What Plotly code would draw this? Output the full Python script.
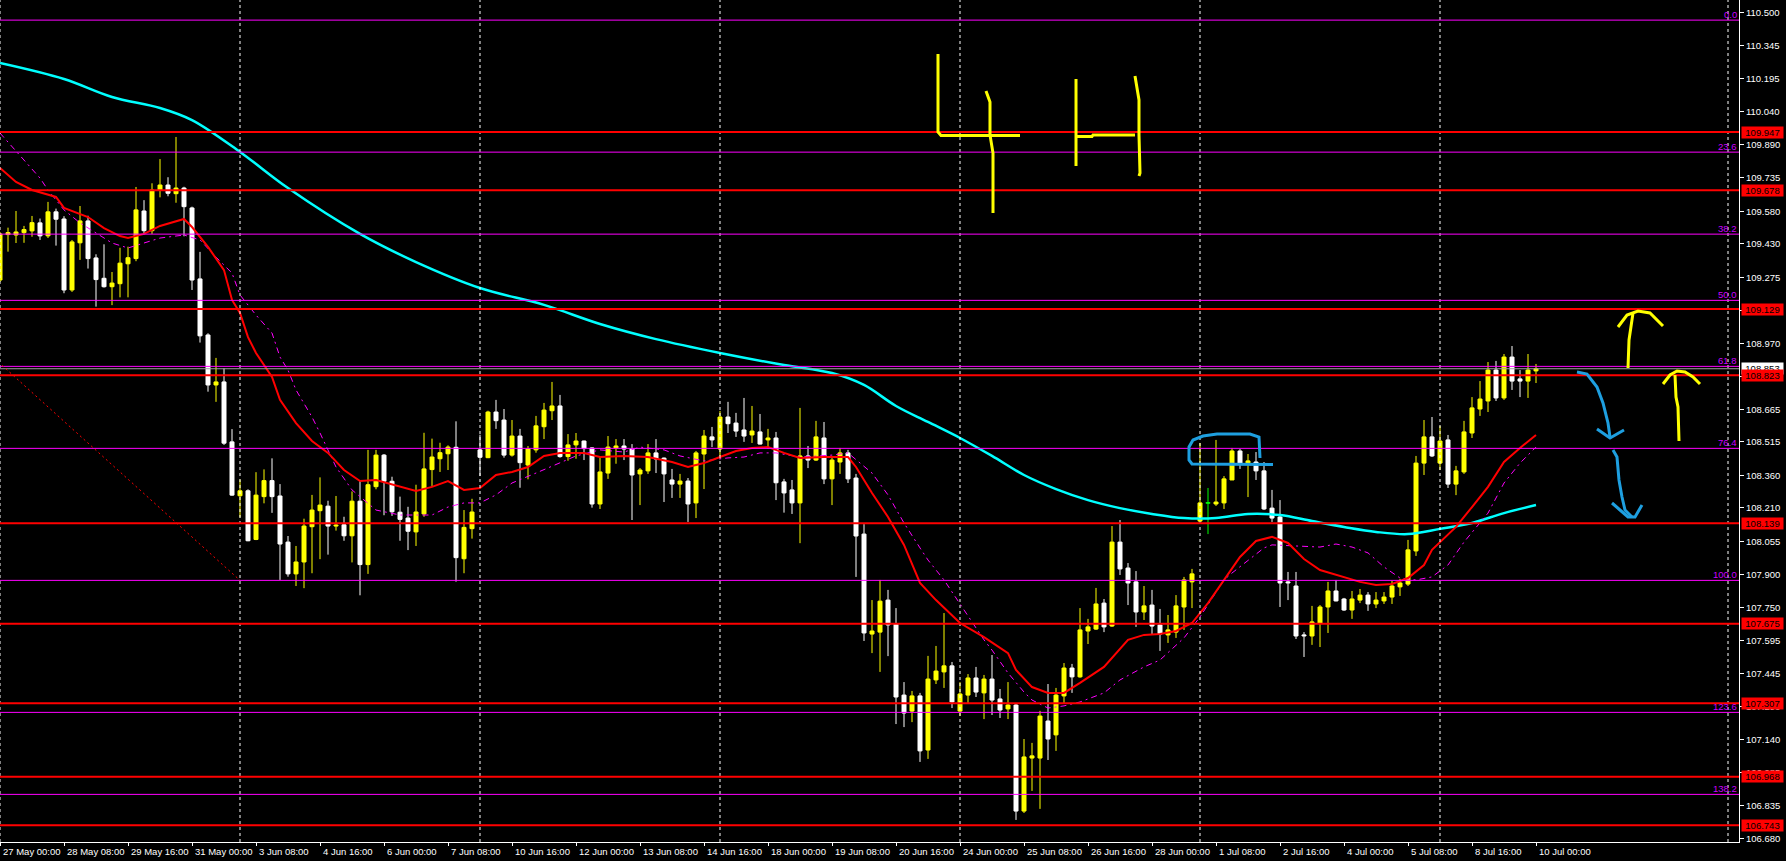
import plotly.graph_objects as go

# ---------------- DATA ----------------
opens = [109.263,109.473,109.471,109.482,109.490,109.527,109.467,109.578,109.545,109.217,
109.435,109.536,109.365,109.271,109.232,109.246,109.338,109.362,109.582,109.491,
109.679,109.702,109.662,109.688,109.596,109.268,109.009,108.778,108.792,108.515,
108.266,108.289,108.064,108.262,108.336,108.265,108.052,107.905,107.960,108.123,
108.197,108.218,108.126,108.132,108.081,108.241,107.948,108.308,108.454,108.333,
108.190,108.163,108.099,108.182,108.387,108.437,108.460,108.490,107.975,108.114,
108.478,108.442,108.653,108.616,108.454,108.542,108.408,108.478,108.585,108.659,
108.681,108.447,108.501,108.519,108.487,108.228,108.371,108.487,108.496,108.482,
108.367,108.381,108.464,108.440,108.339,108.320,108.334,108.233,108.459,108.538,
108.482,108.630,108.602,108.570,108.547,108.561,108.524,108.533,108.330,108.293,
108.233,108.450,108.431,108.533,108.344,108.422,108.464,108.348,108.089,107.627,
107.636,107.784,107.673,107.345,107.271,107.341,107.091,107.415,107.452,107.480,
107.271,107.345,107.424,107.355,107.419,107.327,107.281,107.299,106.809,107.054,
107.054,107.225,107.161,107.341,107.470,107.429,107.641,107.650,107.770,107.664,
108.052,107.932,107.868,107.729,107.761,107.669,107.623,107.636,107.752,107.868,
108.149,108.233,108.228,108.233,108.339,108.473,108.413,108.422,108.381,108.209,
108.168,107.868,107.849,107.623,107.618,107.678,107.752,107.826,107.789,107.738,
107.784,107.807,107.766,107.780,107.798,107.845,107.858,108.011,108.417,108.538,
108.417,108.524,108.320,108.376,108.556,108.667,108.704,108.847,108.718,108.907,
108.806,108.796,108.843]
highs = [109.485,109.505,109.582,109.513,109.559,109.547,109.624,109.593,109.558,109.448,
109.605,109.560,109.382,109.428,109.300,109.412,109.417,109.693,109.632,109.710,
109.822,109.738,109.924,109.694,109.602,109.393,109.017,108.903,108.855,108.574,
108.341,108.296,108.375,108.388,108.439,108.320,108.080,108.034,108.160,108.270,
108.351,108.243,108.265,108.169,108.286,108.336,108.478,108.478,108.459,108.354,
108.262,108.215,108.317,108.557,108.530,108.511,108.499,108.610,108.200,108.252,
108.548,108.659,108.709,108.667,108.616,108.575,108.496,108.635,108.695,108.792,
108.732,108.551,108.556,108.521,108.490,108.441,108.542,108.528,108.528,108.505,
108.394,108.505,108.528,108.443,108.390,108.367,108.348,108.473,108.570,108.584,
108.658,108.700,108.649,108.718,108.681,108.644,108.575,108.561,108.344,108.339,
108.672,108.496,108.612,108.607,108.450,108.487,108.478,108.367,108.135,107.784,
107.877,107.831,107.747,107.405,107.364,107.355,107.526,107.572,107.724,107.498,
107.405,107.442,107.475,107.438,107.530,107.373,107.405,107.308,107.142,107.124,
107.272,107.396,107.378,107.493,107.489,107.747,107.697,107.840,107.789,108.126,
108.154,107.955,107.918,107.849,107.831,107.743,107.715,107.807,107.891,107.928,
108.510,108.302,108.524,108.357,108.487,108.482,108.459,108.468,108.422,108.293,
108.246,107.914,107.914,107.636,107.757,107.761,107.868,107.877,107.794,107.826,
107.835,107.821,107.821,107.821,107.872,107.882,108.062,108.450,108.616,108.630,
108.589,108.547,108.404,108.612,108.722,108.796,108.884,108.889,108.921,108.958,
108.847,108.921,108.875]
lows = [109.254,109.394,109.434,109.435,109.463,109.448,109.457,109.422,109.202,109.208,
109.356,109.316,109.140,109.228,109.147,109.183,109.183,109.350,109.475,109.476,
109.645,109.650,109.620,109.465,109.217,108.974,108.747,108.700,108.501,108.266,
108.166,108.056,108.061,108.231,108.187,107.877,107.892,107.849,107.839,107.908,
107.973,107.994,108.105,108.058,107.958,107.806,107.905,108.296,108.176,108.173,
108.058,108.015,108.034,108.169,108.308,108.376,108.385,107.869,107.908,108.068,
108.357,108.440,108.575,108.442,108.447,108.303,108.342,108.465,108.528,108.616,
108.442,108.428,108.437,108.431,108.211,108.205,108.344,108.414,108.431,108.154,
108.223,108.367,108.371,108.237,108.256,108.256,108.145,108.163,108.297,108.491,
108.436,108.556,108.538,108.515,108.510,108.503,108.482,108.246,108.188,108.182,
108.047,108.394,108.427,108.320,108.223,108.367,108.325,107.891,107.595,107.539,
107.452,107.525,107.211,107.197,107.220,107.036,107.050,107.396,107.378,107.285,
107.248,107.304,107.336,107.234,107.253,107.239,107.234,106.768,106.800,106.902,
106.819,107.045,107.087,107.308,107.355,107.425,107.581,107.646,107.636,107.660,
107.900,107.761,107.660,107.692,107.623,107.549,107.586,107.609,107.646,107.747,
108.149,108.089,108.219,108.205,108.339,108.390,108.260,108.339,108.200,108.145,
107.752,107.784,107.604,107.521,107.577,107.567,107.632,107.778,107.734,107.697,
107.770,107.734,107.747,107.766,107.766,107.803,107.849,107.988,108.362,108.445,
108.385,108.302,108.269,108.367,108.533,108.635,108.653,108.704,108.709,108.755,
108.722,108.718,108.787]
closes = [109.476,109.482,109.485,109.496,109.528,109.467,109.578,109.544,109.217,109.439,
109.536,109.362,109.265,109.232,109.249,109.341,109.366,109.587,109.491,109.679,
109.702,109.664,109.688,109.602,109.263,109.005,108.778,108.792,108.509,108.269,
108.289,108.058,108.269,108.336,108.262,108.043,107.905,107.960,108.126,108.200,
108.223,108.126,108.131,108.081,108.241,107.948,108.317,108.454,108.333,108.192,
108.157,108.102,108.191,108.390,108.445,108.465,108.491,107.980,108.120,108.191,
108.444,108.653,108.613,108.454,108.542,108.419,108.482,108.589,108.662,108.681,
108.447,108.501,108.519,108.484,108.228,108.376,108.491,108.496,108.482,108.362,
108.385,108.464,108.436,108.367,108.320,108.334,108.228,108.464,108.542,108.524,
108.630,108.599,108.565,108.542,108.565,108.505,108.533,108.326,108.279,108.233,
108.450,108.431,108.538,108.344,108.431,108.464,108.344,108.080,107.632,107.641,
107.779,107.669,107.336,107.262,107.341,107.087,107.419,107.456,107.480,107.313,
107.350,107.424,107.359,107.419,107.322,107.276,107.299,106.809,107.059,107.064,
107.248,107.142,107.345,107.470,107.429,107.646,107.660,107.766,107.660,108.052,
107.928,107.863,107.729,107.757,107.664,107.627,107.646,107.757,107.877,107.905,
108.233,108.233,108.237,108.344,108.473,108.417,108.427,108.381,108.205,108.163,
107.863,107.863,107.618,107.618,107.683,107.752,107.826,107.780,107.738,107.789,
107.807,107.766,107.784,107.798,107.849,107.863,108.016,108.417,108.538,108.450,
108.519,108.320,108.381,108.561,108.672,108.713,108.847,108.718,108.907,108.796,
108.796,108.847,108.853]

# moving averages, read at sample bars
ma_cyan_idx = [0,8,14,20,24,30,36,45,52,60,68,75,82,90,98,104,108,112,116,120,124,128,
               132,136,140,144,148,152,156,160,164,168,172,176,180,184,188,192]
ma_cyan = [110.266,110.192,110.109,110.058,110.002,109.855,109.688,109.476,109.346,109.226,
           109.148,109.060,108.990,108.926,108.870,108.833,108.778,108.681,108.607,108.533,
           108.450,108.362,108.297,108.246,108.209,108.182,108.163,108.163,108.182,108.177,
           108.149,108.122,108.099,108.089,108.113,108.140,108.186,108.223]
ma_red_idx = [0,2,4,7,8,11,13,15,16,18,20,23,24,26,28,29,30,31,32,34,35,37,39,41,43,45,47,
              50,52,54,56,58,60,62,64,66,68,70,73,75,78,81,84,86,88,90,92,94,96,98,100,103,
              106,107,109,111,113,115,117,120,123,126,127,129,131,133,135,138,141,143,145,
              147,149,151,153,155,157,159,161,163,165,168,170,172,174,176,178,179,182,184,
              186,188,190,192]
ma_red = [109.781,109.716,109.679,109.647,109.596,109.554,109.503,109.466,109.457,109.476,
          109.513,109.545,109.508,109.416,109.309,109.171,109.111,108.999,108.926,108.815,
          108.709,108.602,108.519,108.464,108.385,108.334,108.339,108.307,108.288,108.307,
          108.334,108.293,108.302,108.362,108.376,108.399,108.450,108.464,108.464,108.445,
          108.450,108.445,108.422,108.399,108.417,108.445,108.473,108.487,108.491,108.464,
          108.441,108.445,108.445,108.399,108.279,108.168,108.039,107.863,107.784,107.678,
          107.613,107.539,107.461,107.382,107.355,107.355,107.401,107.475,107.600,107.623,
          107.627,107.641,107.678,107.770,107.877,107.983,108.057,108.076,108.048,107.974,
          107.923,107.891,107.868,107.854,107.858,107.886,107.946,108.016,108.122,108.214,
          108.307,108.422,108.487,108.547]
ma_mag_idx = [0,3,5,6,8,10,13,14,16,18,20,23,25,27,29,30,32,34,35,36,37,39,40,42,44,47,50,
              54,56,58,60,62,64,67,70,72,75,78,80,83,85,88,91,93,95,97,100,104,106,109,111,
              113,115,116,118,119,121,123,124,126,128,129,131,133,135,138,140,143,145,147,
              148,150,152,153,154,156,158,159,162,165,167,169,171,173,175,177,179,181,183,
              186,188,190,192]
ma_mag = [109.942,109.818,109.734,109.679,109.587,109.527,109.457,109.434,109.411,109.434,
          109.457,109.471,109.448,109.369,109.295,109.194,109.101,109.018,108.907,108.847,
          108.755,108.630,108.556,108.399,108.293,108.200,108.177,108.177,108.214,108.233,
          108.233,108.270,108.325,108.371,108.417,108.450,108.478,108.468,108.491,108.478,
          108.450,108.427,108.441,108.445,108.464,108.464,108.445,108.454,108.464,108.371,
          108.270,108.140,108.025,107.969,107.877,107.821,107.706,107.600,107.553,107.447,
          107.359,107.322,107.285,107.295,107.313,107.355,107.415,107.475,107.507,107.576,
          107.609,107.706,107.821,107.877,107.909,107.969,108.025,108.039,108.034,108.029,
          108.043,108.029,108.002,107.937,107.886,107.877,107.891,107.946,108.052,108.186,
          108.325,108.417,108.491]

# horizontal levels
red_levels = [109.947, 109.678, 109.129, 108.823, 108.139, 107.675, 107.307, 106.968, 106.743]
fib_names = ["0.0", "23.6", "38.2", "50.0", "61.8", "76.4", "100.0", "123.6", "138.2"]
fib_prices = [110.464, 109.854, 109.475, 109.169, 108.864, 108.485, 107.875, 107.265, 106.886]
fib_anchor_bars = [-47.5, 30]
fib_anchor_prices = [110.464, 107.875]
current_price = 108.853

# axes
y_ticks = [110.500,110.345,110.195,110.040,109.890,109.735,109.580,109.430,109.275,109.120,
           108.970,108.815,108.665,108.515,108.360,108.210,108.055,107.900,107.750,107.595,
           107.445,107.290,107.140,106.985,106.835,106.680]
x_tick_bars = list(range(0, 193, 8))
x_tick_labels = ["27 May 00:00","28 May 08:00","29 May 16:00","31 May 00:00","3 Jun 08:00",
                 "4 Jun 16:00","6 Jun 00:00","7 Jun 08:00","10 Jun 16:00","12 Jun 00:00",
                 "13 Jun 08:00","14 Jun 16:00","18 Jun 00:00","19 Jun 08:00","20 Jun 16:00",
                 "24 Jun 00:00","25 Jun 08:00","26 Jun 16:00","28 Jun 00:00","1 Jul 08:00",
                 "2 Jul 16:00","4 Jul 00:00","5 Jul 08:00","8 Jul 16:00","10 Jul 00:00"]
separator_bars = [0, 30, 60, 90, 120, 150, 180, 216]

# ---------------- LAYOUT CONSTANTS ----------------
W, H = 1786, 861
ML, MR, MT, MB = 0, 47, 0, 19
PW, PH = W - ML - MR, H - MT - MB
X_RANGE = [0, 217.375]
Y_RANGE = [106.666, 110.557]
FONT = "Liberation Sans, Arial, sans-serif"
YELLOW, WHITE, GREEN = "#FFFF00", "#FFFFFF", "#00FF00"

bars = list(range(len(opens)))

fig = go.Figure()

# wicks
groups = {YELLOW: ([], []), WHITE: ([], []), GREEN: ([], [])}
colors = []
for i, o, h, l, c in zip(bars, opens, highs, lows, closes):
    col = YELLOW if c > o else (WHITE if c < o else GREEN)
    colors.append(col)
    gx, gy = groups[col]
    gx += [i, i, None]
    gy += [l, h, None]
for col, (gx, gy) in groups.items():
    fig.add_trace(go.Scatter(x=gx, y=gy, mode="lines", line=dict(color=col, width=1),
                             hoverinfo="skip", showlegend=False))

# bodies
fig.add_trace(go.Bar(x=bars, base=[min(o, c) for o, c in zip(opens, closes)],
                     y=[abs(c - o) for o, c in zip(opens, closes)],
                     width=0.5, marker=dict(color=colors, line=dict(color=colors, width=1)),
                     hoverinfo="skip", showlegend=False))
# doji bodies
dx, dy = [], []
for i, o, c in zip(bars, opens, closes):
    if o == c:
        dx += [i - 0.3, i + 0.3, None]
        dy += [c, c, None]
fig.add_trace(go.Scatter(x=dx, y=dy, mode="lines", line=dict(color=GREEN, width=1),
                         hoverinfo="skip", showlegend=False))

# moving averages
fig.add_trace(go.Scatter(x=ma_cyan_idx, y=ma_cyan, mode="lines", line_shape="spline",
                         line=dict(color="#00FFFF", width=2.5), hoverinfo="skip", showlegend=False))
fig.add_trace(go.Scatter(x=ma_mag_idx, y=ma_mag, mode="lines",
                         line=dict(color="#FF00FF", width=1, dash="6px,4px,2px,4px"),
                         hoverinfo="skip", showlegend=False))
fig.add_trace(go.Scatter(x=ma_red_idx, y=ma_red, mode="lines",
                         line=dict(color="#FF0000", width=2), hoverinfo="skip", showlegend=False))

shapes = []
for b in separator_bars:
    shapes.append(dict(type="line", xref="x", yref="paper", x0=b, x1=b, y0=0, y1=1,
                       line=dict(color="#FFFFFF", width=1, dash="3px,3px"), layer="above"))
for p in fib_prices:
    shapes.append(dict(type="line", xref="paper", yref="y", x0=0, x1=1, y0=p, y1=p,
                       line=dict(color="#FF00FF", width=1), layer="above"))
shapes.append(dict(type="line", xref="paper", yref="y", x0=0, x1=1, y0=current_price,
                   y1=current_price, line=dict(color="#A0A0A0", width=1), layer="above"))
for p in red_levels:
    shapes.append(dict(type="line", xref="paper", yref="y", x0=0, x1=1, y0=p, y1=p,
                       line=dict(color="#FF0000", width=2), layer="above"))
shapes.append(dict(type="line", xref="x", yref="y", x0=fib_anchor_bars[0], y0=fib_anchor_prices[0],
                   x1=fib_anchor_bars[1], y1=fib_anchor_prices[1],
                   line=dict(color="#FF0000", width=1, dash="2px,3px"), layer="above"))

# hand drawings (pixel positions on the screenshot)
strokes = [
    ("#FFFF00", [(938, 54), (938, 132), (941, 135.5), (1020, 135.5)]),
    ("#FFFF00", [(986, 91), (990, 102), (990, 135), (993, 153), (993, 213)]),
    ("#FFFF00", [(1076, 79), (1076, 166)]),
    ("#FFFF00", [(1076, 136.5), (1092, 136.5), (1093, 135), (1135, 135)]),
    ("#FFFF00", [(1135, 76), (1139, 100), (1139, 135), (1140, 173), (1139, 176)]),
    ("#1E9FE0", [(1260, 458), (1259, 437), (1250, 434), (1217, 434), (1203, 436), (1193, 440),
                 (1189, 447), (1189, 460), (1192, 464), (1273, 464.5)]),
    ("#1E9FE0", [(1577, 372), (1587, 374), (1597, 387), (1603, 403), (1608, 423), (1610, 437)]),
    ("#1E9FE0", [(1597, 429), (1610, 438), (1624, 430)]),
    ("#1E9FE0", [(1613, 450), (1617, 457), (1619, 480), (1622, 497), (1625, 510), (1632, 517)]),
    ("#1E9FE0", [(1612, 503), (1620, 510), (1628, 517), (1635, 517), (1642, 505)]),
    ("#FFFF00", [(1628, 368), (1629, 340), (1633, 313)]),
    ("#FFFF00", [(1618, 327), (1627, 315), (1638, 311), (1650, 313), (1663, 326)]),
    ("#FFFF00", [(1679, 441), (1678, 407), (1676, 397), (1675, 375)]),
    ("#FFFF00", [(1663, 384), (1670, 375), (1677, 371), (1685, 372), (1693, 377), (1700, 384)]),
]
for col, pts in strokes:
    path = "M " + " L ".join(f"{(px - ML) / PW:.5f},{1 - (py - MT) / PH:.5f}" for px, py in pts)
    shapes.append(dict(type="path", xref="paper", yref="paper", path=path,
                       line=dict(color=col, width=3), layer="above"))

annotations = []
# x-axis labels, left-aligned at their tick like the terminal does
for b, lab in zip(x_tick_bars, x_tick_labels):
    annotations.append(dict(xref="x", yref="paper", x=b, y=0, xanchor="left", yanchor="top",
                            xshift=1, yshift=-2, text=lab, showarrow=False,
                            font=dict(family=FONT, size=9.5, color="#FFFFFF")))
for name, p in zip(fib_names, fib_prices):
    annotations.append(dict(xref="paper", yref="y", x=1, y=p, xanchor="right", yanchor="bottom",
                            text=name, showarrow=False, yshift=-2,
                            font=dict(family=FONT, size=9.5, color="#CC00FF")))
annotations.append(dict(xref="paper", yref="y", x=1, y=current_price, xanchor="left", yanchor="middle",
                        xshift=2, text=f"{current_price:.3f}", showarrow=False, bgcolor="#FFFFFF",
                        width=40, height=10, borderpad=0.5,
                        font=dict(family=FONT, size=9.5, color="#000000")))
for p in red_levels:
    annotations.append(dict(xref="paper", yref="y", x=1, y=p, xanchor="left", yanchor="middle",
                            xshift=2, text=f"{p:.3f}", showarrow=False, bgcolor="#FF0000",
                            width=40, height=10, borderpad=0.5,
                            font=dict(family=FONT, size=9.5, color="#000000")))

fig.update_layout(
    width=W, height=H, autosize=False,
    margin=dict(l=ML, r=MR, t=MT, b=MB, pad=0),
    paper_bgcolor="#000000", plot_bgcolor="#000000",
    showlegend=False, shapes=shapes, annotations=annotations,
    font=dict(family=FONT, size=9.5, color="#FFFFFF"),
    xaxis=dict(range=X_RANGE, showgrid=False, zeroline=False, tickmode="array",
               tickvals=x_tick_bars, showticklabels=False, ticks="outside", ticklen=3,
               tickcolor="#FFFFFF", showline=True,
               linecolor="#FFFFFF", linewidth=1, automargin=False),
    yaxis=dict(range=Y_RANGE, side="right", showgrid=False, zeroline=False, tickmode="array",
               tickvals=y_ticks, ticktext=[f"{v:.3f}" for v in y_ticks], ticks="outside",
               ticklen=4, tickcolor="#FFFFFF", showline=True, linecolor="#FFFFFF", linewidth=1,
               automargin=False, tickfont=dict(family=FONT, size=9.5, color="#FFFFFF")),
)

fig.write_html("out.html", config={"displayModeBar": False},
               post_script="document.body.style.margin='0';document.body.style.overflow='hidden';")
